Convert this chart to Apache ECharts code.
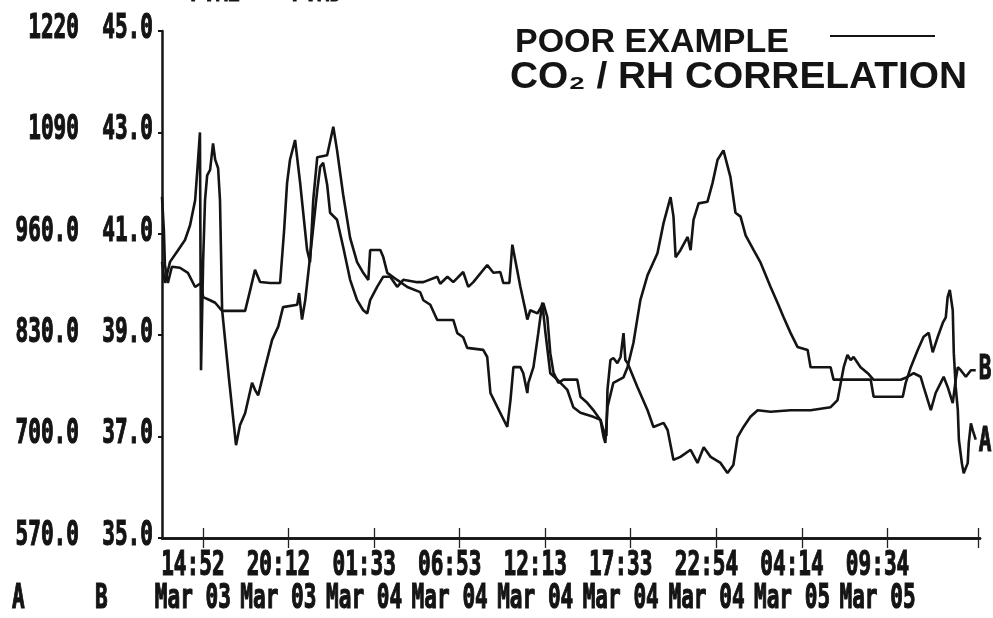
<!DOCTYPE html>
<html>
<head>
<meta charset="utf-8">
<script src="https://cdn.jsdelivr.net/npm/echarts@6/dist/echarts.min.js"></script>
<style>
  html, body { margin: 0; padding: 0; background: #fff; }
  #chart { width: 993px; height: 618px; }
</style>
</head>
<body>
<div id="chart"></div>
<script>
// time = minutes since Mar 03 00:00
var tickMinutes = [892, 1212, 1533, 1853, 2173, 2493, 2814, 3134, 3454];
var tickLabels = ['14:52\nMar 03', '20:12\nMar 03', '01:33\nMar 04', '06:53\nMar 04', '12:13\nMar 04',
                  '17:33\nMar 04', '22:54\nMar 04', '04:14\nMar 05', '09:34\nMar 05'];

var aTicks = [570, 700, 830, 960, 1090, 1220];
var aTickLabels = ['570.0', '700.0', '830.0', '960.0', '1090', '1220'];
var bTicks = [35, 37, 39, 41, 43, 45];
var bTickLabels = ['35.0', '37.0', '39.0', '41.0', '43.0', '45.0'];

// series A (left scale 570 - 1220)
var timesA = [
  739, 750, 769, 799, 825, 844, 863, 874, 881, 885,
  893, 900, 908, 919, 930, 938, 949, 956, 964, 990,
  1016, 1031, 1050, 1076, 1087, 1099, 1125, 1151, 1174, 1192,
  1245, 1252, 1263, 1275, 1293, 1320, 1331, 1342, 1357, 1368,
  1394, 1417, 1443, 1469, 1492, 1507, 1518, 1544, 1567, 1593,
  1619, 1642, 1694, 1717, 1769, 1780, 1807, 1829, 1866, 1885,
  1904, 1956, 1979, 2005, 2016, 2039, 2050, 2061, 2080, 2099,
  2106, 2117, 2144, 2166, 2181, 2192, 2204, 2222, 2241, 2293,
  2305, 2331, 2353, 2380, 2391, 2398, 2406, 2428, 2466, 2481,
  2503, 2529, 2556, 2593, 2616, 2642, 2653, 2661, 2679, 2706,
  2717, 2728, 2747, 2780, 2799, 2818, 2840, 2866, 2885, 2904,
  2923, 2953, 2979, 3016, 3043, 3065, 3091, 3117, 3155, 3166,
  3241, 3252, 3391, 3402, 3511, 3522, 3541, 3567, 3589, 3608,
  3623, 3642, 3661, 3672, 3679, 3687, 3698, 3702, 3709, 3717,
  3721, 3732, 3739, 3754, 3758, 3766, 3773, 3784
];
var valuesA = [
  924, 897, 924, 939, 952, 971, 1003, 1055, 1090, 785,
  926, 1003, 1035, 1042, 1076, 1055, 1044, 1003, 862, 773,
  689, 715, 730, 769, 760, 753, 789, 824, 841, 866,
  869, 884, 850, 875, 930, 1016, 1046, 1051, 1023, 987,
  978, 943, 901, 875, 862, 858, 875, 892, 905, 905,
  892, 901, 898, 898, 905, 896, 905, 898, 911, 892,
  898, 920, 910, 911, 897, 897, 946, 926, 892, 862,
  850, 862, 858, 871, 853, 807, 782, 769, 773, 773,
  751, 743, 734, 721, 700, 692, 738, 769, 776, 789,
  820, 875, 907, 935, 974, 1007, 982, 930, 939, 956,
  939, 978, 999, 1001, 1025, 1055, 1067, 1033, 987, 982,
  958, 939, 923, 892, 871, 853, 833, 815, 811, 789,
  789, 773, 773, 751, 751, 769, 789, 811, 828, 833,
  808, 828, 846, 853, 879, 888, 862, 807, 764, 734,
  696, 666, 653, 666, 692, 717, 708, 696
];

// series B (scale 35.0 - 45.0)
var timesB = [
  739, 746, 750, 761, 776, 806, 836, 863, 885, 893,
  919, 938, 964, 1050, 1069, 1087, 1106, 1144, 1181, 1196,
  1207, 1218, 1237, 1256, 1282, 1293, 1305, 1320, 1357, 1380,
  1394, 1417, 1443, 1469, 1492, 1511, 1518, 1556, 1567, 1582,
  1619, 1657, 1705, 1717, 1743, 1769, 1829, 1844, 1866, 1881,
  1941, 1956, 1968, 1994, 2031, 2043, 2054, 2080, 2091, 2106,
  2110, 2129, 2147, 2162, 2174, 2192, 2219, 2256, 2278, 2305,
  2353, 2380, 2391, 2402, 2406, 2417, 2428, 2443, 2455, 2466,
  2473, 2481, 2518, 2556, 2578, 2616, 2631, 2653, 2679, 2717,
  2743, 2766, 2792, 2829, 2855, 2877, 2893, 2915, 2941, 2968,
  3016, 3091, 3166, 3241, 3267, 3279, 3290, 3304, 3316, 3327,
  3353, 3380, 3402, 3503, 3522, 3552, 3578, 3589, 3616, 3634,
  3653, 3664, 3679, 3698, 3709, 3717, 3728, 3747, 3766, 3784
];
var valuesB = [
  41.73, 41.07, 40.38, 40.03, 40.35, 40.33, 40.23, 39.95, 40.03, 39.75,
  39.69, 39.64, 39.48, 39.48, 39.89, 40.29, 40.05, 40.03, 40.03, 41.07,
  42.00, 42.46, 42.85, 42.00, 40.68, 40.44, 41.67, 42.51, 42.55, 43.11,
  42.65, 41.77, 40.92, 40.44, 40.23, 40.09, 40.68, 40.68, 40.54, 40.23,
  40.09, 39.95, 39.85, 39.69, 39.60, 39.30, 39.30, 39.04, 38.96, 38.75,
  38.71, 38.57, 37.86, 37.58, 37.19, 37.72, 38.37, 38.37, 38.25, 37.86,
  38.06, 38.37, 39.04, 39.64, 39.04, 38.25, 38.12, 37.92, 37.58, 37.47,
  37.39, 37.33, 37.13, 37.01, 37.92, 38.51, 38.55, 38.45, 38.57, 39.04,
  38.51, 38.45, 37.98, 37.52, 37.19, 37.27, 37.13, 36.54, 36.60, 36.74,
  36.48, 36.79, 36.60, 36.48, 36.28, 36.44, 36.99, 37.19, 37.39, 37.52,
  37.49, 37.52, 37.52, 37.58, 37.72, 38.06, 38.37, 38.61, 38.51, 38.57,
  38.37, 38.25, 38.12, 38.12, 38.16, 38.25, 38.18, 37.98, 37.52, 37.86,
  38.06, 38.18, 37.98, 37.66, 38.12, 38.37, 38.31, 38.18, 38.31, 38.31
];

function zip(xs, ys) {
  var out = [];
  for (var i = 0; i < xs.length; i++) out.push([xs[i], ys[i]]);
  return out;
}

var ink = '#141414';
var printFont = 'bold 34px "DejaVu Sans Mono", "Liberation Mono", monospace';
var handFont = '"Liberation Sans", "DejaVu Sans", sans-serif';

var myChart = echarts.init(document.getElementById('chart'));
var option = {
  backgroundColor: '#ffffff',
  animation: false,
  grid: {
    left: 162,
    right: 13,
    top: 31,
    bottom: 80,
    outerBoundsMode: 'none'
  },
  xAxis: [
    {
      type: 'value',
      min: 739,
      max: 3800,
      axisLine: { lineStyle: { color: ink, width: 2.5 } },
      axisTick: {
        customValues: tickMinutes.concat([3792]),
        length: 10,
        lineStyle: { color: '#222', width: 1.3 }
      },
      axisLabel: { show: false },
      splitLine: { show: false }
    },
    {
      // inner half of the crossing tick marks
      type: 'value',
      min: 739,
      max: 3800,
      position: 'bottom',
      axisLine: { show: true, lineStyle: { color: ink, width: 2.5 } },
      axisTick: {
        show: true,
        inside: true,
        customValues: tickMinutes.concat([3792]),
        length: 10,
        lineStyle: { color: '#222', width: 1.3 }
      },
      axisLabel: { show: false },
      splitLine: { show: false }
    }
  ],
  yAxis: [
    {
      type: 'value',
      position: 'left',
      offset: 74,
      min: 570,
      max: 1220,
      axisLine: { show: false },
      axisTick: { show: false },
      axisLabel: { show: false },
      splitLine: { show: false }
    },
    {
      type: 'value',
      position: 'left',
      min: 35,
      max: 45,
      axisLine: { show: true, lineStyle: { color: ink, width: 2.5 } },
      axisTick: {
        show: true,
        customValues: bTicks,
        length: 4,
        lineStyle: { color: ink, width: 2 }
      },
      axisLabel: { show: false },
      splitLine: { show: false }
    }
  ],
  series: [
    {
      name: 'A',
      type: 'line',
      yAxisIndex: 0,
      data: zip(timesA, valuesA),
      showSymbol: false,
      lineStyle: { color: ink, width: 2.6 }
    },
    {
      name: 'B',
      type: 'line',
      yAxisIndex: 1,
      data: zip(timesB, valuesB),
      showSymbol: false,
      lineStyle: { color: ink, width: 2.6 }
    }
  ]
};
myChart.setOption(option);

// tall, narrow printer-style labels placed through the axes' own scales
function printText(text, x, y, align, vAlign) {
  return {
    type: 'text', x: x, y: y, scaleX: 0.62, silent: true,
    style: {
      text: text, fill: ink, stroke: ink, lineWidth: 1.2,
      font: printFont, align: align, verticalAlign: vAlign, lineHeight: 33
    }
  };
}
var labels = [];
tickMinutes.forEach(function (t, i) {
  var px = myChart.convertToPixel({ xAxisIndex: 0 }, t);
  labels.push(printText(tickLabels[i], px - 10, 550, 'center', 'top'));
});
aTicks.forEach(function (v, i) {
  var py = myChart.convertToPixel({ yAxisIndex: 0 }, v);
  labels.push(printText(aTickLabels[i], 79, py - 2, 'right', 'middle'));
});
bTicks.forEach(function (v, i) {
  var py = myChart.convertToPixel({ yAxisIndex: 1 }, v);
  labels.push(printText(bTickLabels[i], 153, py - 2, 'right', 'middle'));
});
labels.push(printText('A', 12, 583, 'left', 'top'));
labels.push(printText('B', 95, 583, 'left', 'top'));
var endA = myChart.convertToPixel({ seriesIndex: 0 }, [timesA[timesA.length - 1], valuesA[valuesA.length - 1]]);
var endB = myChart.convertToPixel({ seriesIndex: 1 }, [timesB[timesB.length - 1], valuesB[valuesB.length - 1]]);
labels.push(printText('A', endA[0] + 3, endA[1] + 2, 'left', 'middle'));
labels.push(printText('B', endB[0] + 3, endB[1], 'left', 'middle'));
// cut-off header text at the top edge
labels.push(printText('P.M2    P.MD', 190, 9, 'left', 'bottom'));

// handwritten note
labels.push({
  type: 'text', x: 515, y: 26, silent: true,
  style: { text: 'POOR EXAMPLE', fill: ink, font: 'bold 34px ' + handFont }
});
labels.push({
  type: 'line', silent: true,
  shape: { x1: 830, y1: 36, x2: 935, y2: 36 },
  style: { stroke: ink, lineWidth: 2 }
});
labels.push({
  type: 'text', x: 510, y: 60, scaleX: 1.08, silent: true,
  style: { text: 'CO\u2082 / RH CORRELATION', fill: ink, font: 'bold 36px ' + handFont }
});

myChart.setOption({ graphic: labels });
</script>
</body>
</html>
